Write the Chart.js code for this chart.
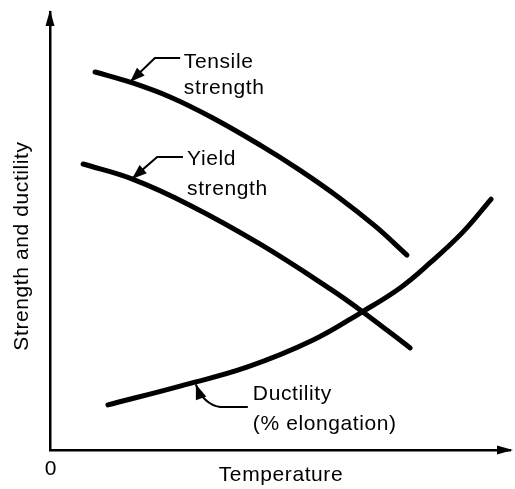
<!DOCTYPE html>
<html>
<head>
<meta charset="utf-8">
<script src="https://cdn.jsdelivr.net/npm/chart.js@4.4.1/dist/chart.umd.min.js"></script>
<style>
  html, body { margin: 0; padding: 0; background: #fff; }
  #wrap { width: 515px; height: 489px; position: relative; }
</style>
</head>
<body>
<div id="wrap"><canvas id="myChart"></canvas></div>
<script>
// Values (arbitrary units, 0-100 on both axes)
const tensileX = [9.8, 17.4, 26.1, 35.4, 45.7, 54.3, 63.0, 70.7, 77.6];
const tensileY = [86.3, 84.0, 80.6, 75.8, 69.6, 63.9, 57.5, 51.1, 44.5];

const yieldX = [7.2, 17.8, 30.4, 45.7, 60.9, 67.8, 78.3];
const yieldY = [65.3, 61.9, 55.9, 47.0, 36.8, 31.7, 23.3];

const ductilityX = [12.6, 28.3, 42.8, 57.2, 67.8, 76.1, 82.6, 89.8, 95.9];
const ductilityY = [10.3, 14.6, 18.9, 25.1, 31.5, 37.0, 42.7, 49.8, 57.3];

const xTitle = 'Temperature';
const yTitle = 'Strength and ductility';
const originLabel = '0';

const toPoints = (xs, ys) => xs.map((x, i) => ({ x: x, y: ys[i] }));

// callout labels with leader arrows, in data units
const callouts = [
    { lines: ['Tensile', 'strength'], text: [29.1, 88.6], lineGap: 6.0,
      leader: [[28.3, 89.5], [22.8, 89.5]], tip: [17.4, 84.0] },
    { lines: ['Yield', 'strength'], text: [29.8, 66.4], lineGap: 6.8,
      leader: [[28.9, 66.9], [23.3, 66.9]], tip: [17.8, 61.9] },
    { lines: ['Ductility', '(% elongation)'], text: [44.1, 12.8], lineGap: 6.9,
      leader: [[43.0, 9.8], [37.0, 9.8]], curve: [33.3, 10.5], tip: [31.7, 15.0] }
];

const font = '21px "Liberation Sans", Arial, sans-serif';

function arrowHead(c, fromX, fromY, toX, toY, len, half) {
    const a = Math.atan2(toY - fromY, toX - fromX);
    c.beginPath();
    c.moveTo(toX, toY);
    c.lineTo(toX - len * Math.cos(a) + half * Math.sin(a), toY - len * Math.sin(a) - half * Math.cos(a));
    c.lineTo(toX - len * Math.cos(a) - half * Math.sin(a), toY - len * Math.sin(a) + half * Math.cos(a));
    c.closePath();
    c.fill();
}

const decorations = {
    id: 'decorations',
    afterDraw(chart) {
        const c = chart.ctx;
        const area = chart.chartArea;
        const xs = chart.scales.x;
        const ys = chart.scales.y;
        c.save();
        c.fillStyle = '#000';
        c.strokeStyle = '#000';

        // axis arrow heads
        arrowHead(c, area.left, area.top + 20, area.left, area.top - 2, 16, 4.5);
        arrowHead(c, area.right - 20, area.bottom, area.right + 3, area.bottom, 16, 4.5);

        // axis texts
        c.font = font;
        c.letterSpacing = '0.6px';
        c.textAlign = 'center';
        c.textBaseline = 'middle';
        c.fillText(originLabel, xs.getPixelForValue(0) + 1, area.bottom + 19);
        c.fillText(xTitle, (area.left + area.right) / 2 + 1, area.bottom + 25);
        c.save();
        c.translate(area.left - 28, (area.top + area.bottom) / 2 + 15);
        c.rotate(-Math.PI / 2);
        c.fillText(yTitle, 0, 0);
        c.restore();

        // callouts
        callouts.forEach(cl => {
            const px = p => [xs.getPixelForValue(p[0]), ys.getPixelForValue(p[1])];
            const a = px(cl.leader[0]);
            const b = px(cl.leader[1]);
            const tip = px(cl.tip);
            c.lineWidth = 2;
            c.beginPath();
            c.moveTo(a[0], a[1]);
            c.lineTo(b[0], b[1]);
            let from = b;
            if (cl.curve) {
                const k = px(cl.curve);
                c.quadraticCurveTo(k[0], k[1], tip[0], tip[1]);
                from = k;
            } else {
                c.lineTo(tip[0], tip[1]);
            }
            c.stroke();
            arrowHead(c, from[0], from[1], tip[0], tip[1], 15, 5.5);

            const t = px(cl.text);
            c.textAlign = 'left';
            c.fillText(cl.lines[0], t[0], t[1]);
            const t2 = px([cl.text[0], cl.text[1] - cl.lineGap]);
            c.fillText(cl.lines[1], t2[0], t2[1]);
        });
        c.restore();
    }
};

const curveStyle = {
    borderColor: '#000',
    borderWidth: 5,
    borderCapStyle: 'round',
    borderJoinStyle: 'round',
    pointRadius: 0,
    fill: false,
    showLine: true,
    tension: 0.4
};

new Chart(document.getElementById('myChart'), {
    type: 'scatter',
    data: {
        datasets: [
            Object.assign({ label: 'Tensile strength', data: toPoints(tensileX, tensileY) }, curveStyle),
            Object.assign({ label: 'Yield strength', data: toPoints(yieldX, yieldY) }, curveStyle),
            Object.assign({ label: 'Ductility (% elongation)', data: toPoints(ductilityX, ductilityY) }, curveStyle)
        ]
    },
    options: {
        responsive: true,
        maintainAspectRatio: false,
        animation: false,
        layout: {
            padding: { left: 50, top: 12, right: 5, bottom: 39 }
        },
        scales: {
            x: {
                type: 'linear',
                min: 0,
                max: 100,
                grid: { display: false, drawTicks: false },
                ticks: { display: false },
                border: { display: true, color: '#000', width: 2.5 }
            },
            y: {
                type: 'linear',
                min: 0,
                max: 100,
                grid: { display: false, drawTicks: false },
                ticks: { display: false },
                border: { display: true, color: '#000', width: 2.5 }
            }
        },
        plugins: {
            legend: { display: false },
            tooltip: { enabled: false }
        }
    },
    plugins: [decorations]
});
</script>
</body>
</html>
